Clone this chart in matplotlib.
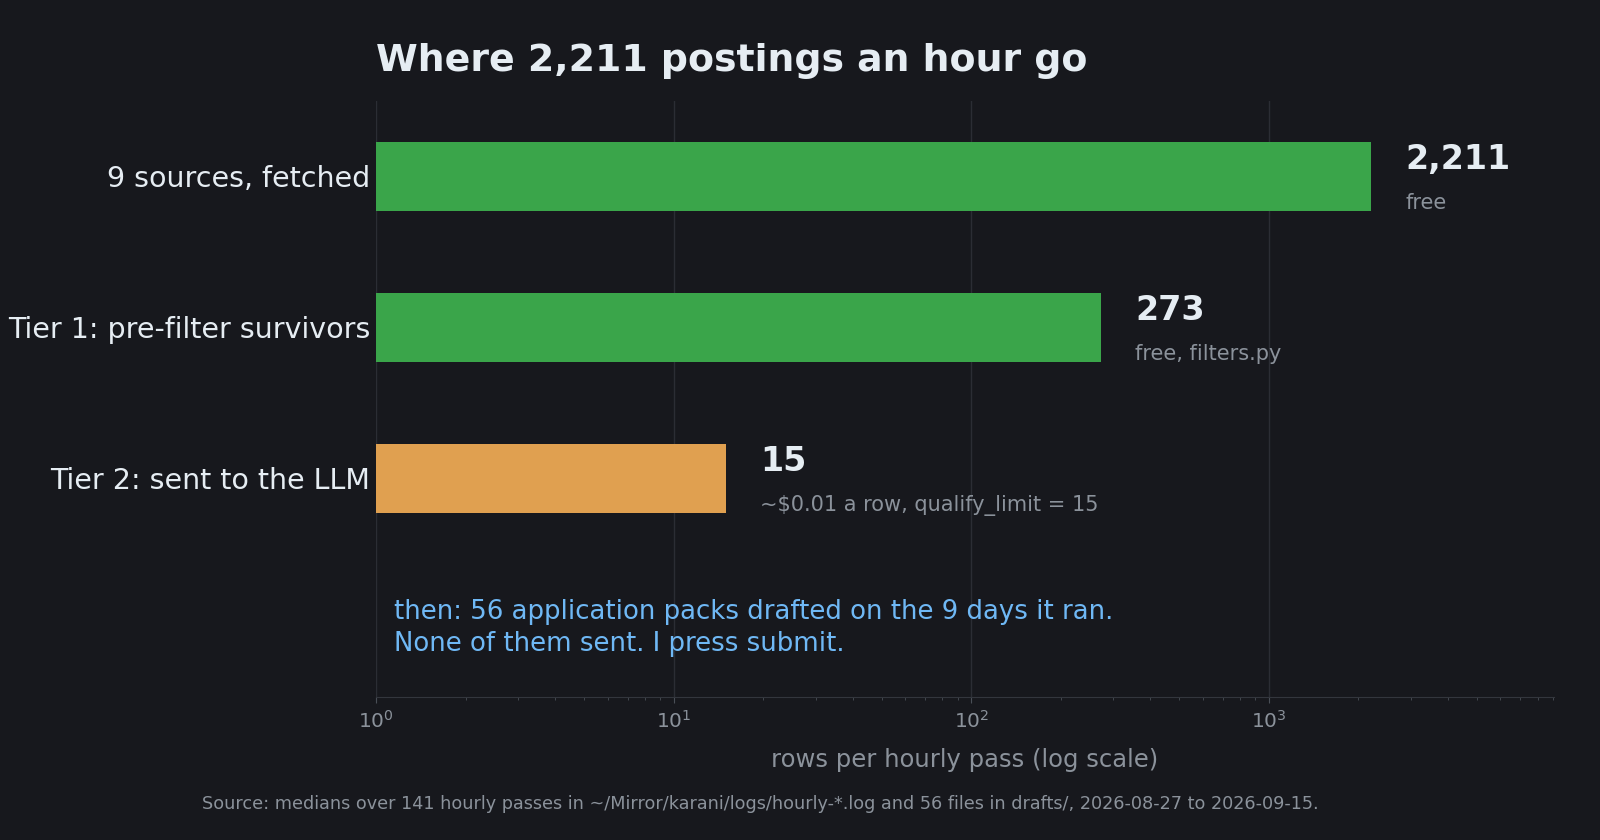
import matplotlib.pyplot as plt
import matplotlib.transforms as mtransforms

# data
stages = ["9 sources, fetched", "Tier 1: pre-filter survivors", "Tier 2: sent to the LLM"]
rows = [2211, 273, 15]
value_labels = ["2,211", "273", "15"]
notes = ["free", "free, filters.py", "~$0.01 a row, qualify_limit = 15"]
bar_colors = ["#3aa54a", "#3aa54a", "#e0a050"]

BG = "#17181d"
TEXT = "#e6edf3"
MUTED = "#8b929b"
GRID = "#2b2d34"

fig = plt.figure(figsize=(16, 8.4), dpi=100, facecolor=BG)
ax = fig.add_axes([0.235, 0.17, 0.736, 0.71])
ax.set_facecolor(BG)

ypos = list(range(len(stages)))
ax.barh(ypos, rows, height=0.46, color=bar_colors, zorder=2)

ax.set_xscale("log")
ax.set_xlim(1, 9050)
ax.set_ylim(3.45, -0.5)

ax.set_yticks(ypos)
ax.set_yticklabels(stages, fontsize=20.5, color=TEXT)
ax.tick_params(axis="y", length=0, pad=4)
ax.tick_params(axis="x", which="both", color="#4a4f57", labelcolor=MUTED, labelsize=14.5, pad=5)
ax.tick_params(axis="x", which="major", length=4)
ax.tick_params(axis="x", which="minor", length=2)

for s in ["top", "right", "left"]:
    ax.spines[s].set_visible(False)
ax.spines["bottom"].set_color("#33363d")

ax.grid(True, axis="x", which="major", color=GRID, linewidth=1, zorder=0)
ax.set_axisbelow(True)

ax.set_xlabel("rows per hourly pass (log scale)", fontsize=17.5, color=MUTED, labelpad=12)

# value + note labels
for y, v, lab, note in zip(ypos, rows, value_labels, notes):
    ax.text(v * 1.3, y - 0.11, lab, fontsize=24, fontweight="bold", color=TEXT,
            va="center", ha="left")
    ax.text(v * 1.3, y + 0.18, note, fontsize=15, color=MUTED, va="center", ha="left")

trans = mtransforms.blended_transform_factory(ax.transAxes, ax.transData)
ax.text(0.015, 2.99,
        "then: 56 application packs drafted on the 9 days it ran.\nNone of them sent. I press submit.",
        transform=trans, fontsize=18.7, color="#6fb8f5", va="center", ha="left",
        linespacing=1.31)

fig.text(0.235, 0.915, "Where 2,211 postings an hour go", fontsize=27.3, fontweight="bold",
         color=TEXT, ha="left", va="baseline")

fig.text(0.475, 0.043,
         "Source: medians over 141 hourly passes in ~/Mirror/karani/logs/hourly-*.log and 56 files in drafts/, 2026-08-27 to 2026-09-15.",
         fontsize=12.7, color=MUTED, ha="center", va="center")

fig.savefig("out.png", facecolor=BG)
